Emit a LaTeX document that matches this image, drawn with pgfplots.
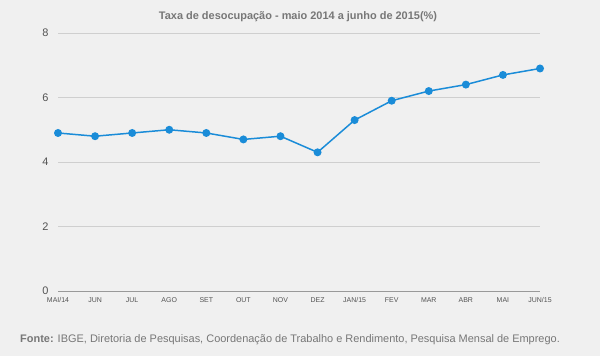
\documentclass[border=0pt]{standalone}
\usepackage{pgfplots}
\pgfplotsset{compat=1.18}
\usepackage{fontspec}
\setmainfont{Liberation Sans}
\definecolor{bg}{HTML}{F0F0F0}
\definecolor{linec}{HTML}{1A8CD8}
\definecolor{txt}{HTML}{777777}
\definecolor{gridc}{HTML}{CFCFCF}
\begin{document}
\begin{tikzpicture}[x=1bp,y=1bp]
\fill[bg] (0,0) rectangle (600,356);
\begin{axis}[
  at={(58bp,65bp)}, anchor=south west,
  scale only axis, width=482bp, height=258bp,
  xmin=0, xmax=13, ymin=0, ymax=8,
  xtick={0,...,13},
  xticklabels={MAI/14,JUN,JUL,AGO,SET,OUT,NOV,DEZ,JAN/15,FEV,MAR,ABR,MAI,JUN/15},
  ytick={0,2,4,6,8},
  xmajorgrids=false, ymajorgrids=true,
  major grid style={draw=gridc, line width=0.6pt},
  axis line style={draw=none},
  major tick length=0pt,
  tick label style={text=txt!70!black},
  yticklabel style={font=\fontsize{11}{12}\selectfont, xshift=-6bp},
  xticklabel style={font=\fontsize{7}{8}\selectfont, yshift=-3bp},
  /pgf/number format/assume math mode=true,
  clip=false,
]
\addplot[linec, line width=1.5pt, mark=*, mark size=3.2pt, mark options={fill=linec, draw=linec}]
  coordinates {(0,4.9)(1,4.8)(2,4.9)(3,5.0)(4,4.9)(5,4.7)(6,4.8)(7,4.3)(8,5.3)(9,5.9)(10,6.2)(11,6.4)(12,6.7)(13,6.9)};
\draw[gray!80, line width=0.8pt] (axis cs:0,0) -- (axis cs:13,0);
\end{axis}
\node[text=txt, font=\bfseries\fontsize{11}{12}\selectfont] at (298,339) {Taxa de desocupação - maio 2014 a junho de 2015(\%)};
\node[anchor=west, text=txt, font=\fontsize{11}{12}\selectfont, inner sep=0pt] at (20,16) {\textbf{Fonte:} IBGE, Diretoria de Pesquisas, Coordenação de Trabalho e Rendimento, Pesquisa Mensal de Emprego.};
\end{tikzpicture}
\end{document}
